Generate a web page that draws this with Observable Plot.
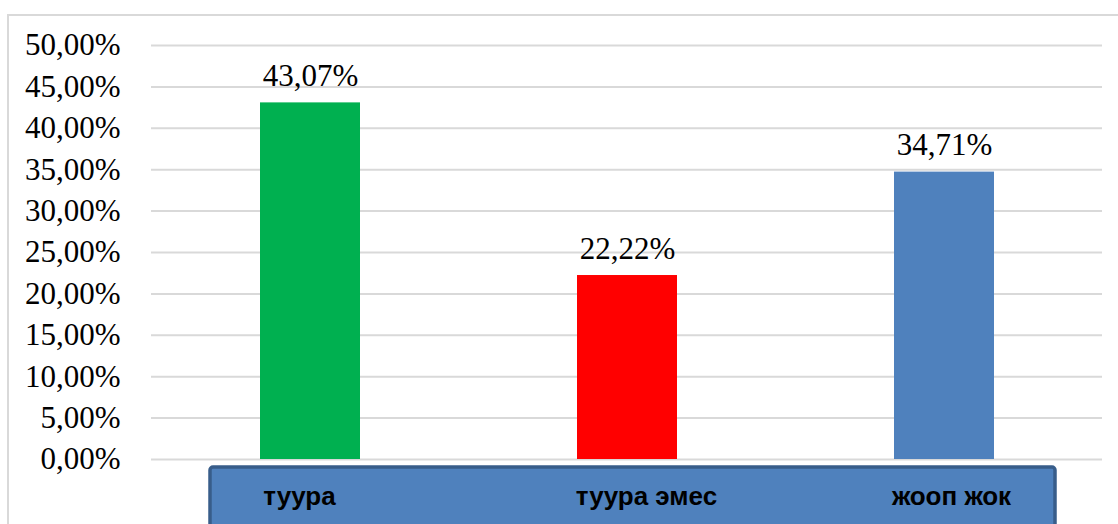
<!DOCTYPE html>
<html>
<head>
<meta charset="utf-8">
<script src="https://cdn.jsdelivr.net/npm/d3@7"></script>
<script src="https://cdn.jsdelivr.net/npm/@observablehq/plot@0.6"></script>
<style>
  html, body { margin: 0; padding: 0; background: #fff; }
  #wrap { position: relative; width: 1118px; height: 524px; overflow: hidden; }
  #border { position: absolute; left: 7px; top: 14px; width: 1200px; height: 600px; border: 2px solid #d9d9d9; box-sizing: border-box; }
  #chart { position: absolute; left: 0; top: 0; }
</style>
</head>
<body>
<div id="wrap">
  <div id="border"></div>
  <div id="chart"></div>
</div>
<script>
const categories = ["туура", "туура эмес", "жооп жок"];
const values = [0.4307, 0.2222, 0.3471];
const colors = ["#00b050", "#ff0000", "#4f81bd"];
const yTicks = [0, 0.05, 0.10, 0.15, 0.20, 0.25, 0.30, 0.35, 0.40, 0.45, 0.50];

const data = categories.map((c, i) => ({category: c, value: values[i], color: colors[i]}));
const fmt = v => d3.format(".2%")(v).replace(".", ",");

// category labels sit in a shared box, slightly off-centre from their bars
const labelShift = [-11, 19, 7];
const labelMarks = categories.map((c, i) =>
  Plot.text([c], {x: d => d, text: d => d, frameAnchor: "bottom", dy: 45, dx: labelShift[i],
    fontSize: 26, fontWeight: "bold", fontFamily: "Liberation Sans", fill: "#000"}));

const chart = Plot.plot({
  width: 1118,
  height: 524,
  marginLeft: 151,
  marginRight: 16,
  marginTop: 45,
  marginBottom: 65,
  style: {background: "transparent", overflow: "visible"},
  x: {domain: categories, paddingInner: 0.685, paddingOuter: 0.3425, label: null, axis: null},
  y: {domain: [0, 0.5], label: null},
  marks: [
    Plot.gridY(yTicks, {stroke: "#d9d9d9", strokeOpacity: 1, strokeWidth: 2}),
    Plot.barY(data, {x: "category", y: "value", fill: "color"}),
    Plot.text(data, {x: "category", y: "value", text: d => fmt(d.value), lineAnchor: "bottom", dy: -17,
      fontSize: 31, fontFamily: "Liberation Serif", fill: "#000"}),
    Plot.axisY(yTicks, {tickSize: 0, tickPadding: 31, tickFormat: fmt, fontSize: 31,
      fontFamily: "Liberation Serif", fill: "#000", label: null}),
    ...labelMarks
  ]
});

// decorative category box behind the category labels
const svg = d3.select(chart);
svg.insert("rect", ":first-child")
  .attr("x", 210).attr("y", 467).attr("width", 845).attr("height", 80)
  .attr("rx", 3)
  .attr("fill", "#4f81bd").attr("stroke", "#385d8a").attr("stroke-width", 3.5);

document.getElementById("chart").appendChild(chart);
</script>
</body>
</html>
